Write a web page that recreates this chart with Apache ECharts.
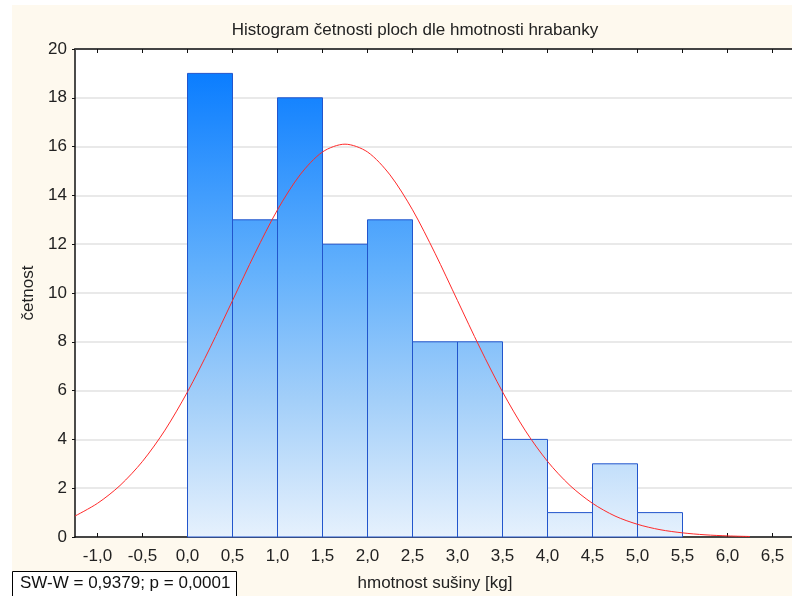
<!DOCTYPE html>
<html>
<head>
<meta charset="utf-8">
<script src="https://cdn.jsdelivr.net/npm/echarts@6/dist/echarts.min.js"></script>
<style>
  html, body { margin: 0; padding: 0; background: #fff; }
  #chart { width: 792px; height: 596px; }
</style>
</head>
<body>
<div id="chart"></div>
<script>
// histogram bins (kg) and counts
const binStarts = [0.0, 0.5, 1.0, 1.5, 2.0, 2.5, 3.0, 3.5, 4.0, 4.5, 5.0]
const binEnds   = [0.5, 1.0, 1.5, 2.0, 2.5, 3.0, 3.5, 4.0, 4.5, 5.0, 5.5]
const counts    = [19, 13, 18, 12, 13, 8, 8, 4, 1, 3, 1]

// fitted normal curve
const curveX = [-1.25, -1.0, -0.75, -0.5, -0.25, 0.0, 0.25, 0.5, 0.75, 1.0, 1.25, 1.5, 1.75,
  2.0, 2.25, 2.5, 2.75, 3.0, 3.25, 3.5, 3.75, 4.0, 4.25, 4.5, 4.75, 5.0, 5.25, 5.5, 5.75, 6.0, 6.25]
const curveY = [0.86, 1.38, 2.11, 3.10, 4.38, 5.95, 7.75, 9.69, 11.63, 13.41, 14.84, 15.78, 16.1,
  15.78, 14.84, 13.41, 11.63, 9.69, 7.75, 5.95, 4.38, 3.10, 2.11, 1.38, 0.86, 0.52, 0.30, 0.17, 0.09, 0.045, 0.02]

const xTicks = [-1.0, -0.5, 0.0, 0.5, 1.0, 1.5, 2.0, 2.5, 3.0, 3.5, 4.0, 4.5, 5.0, 5.5, 6.0, 6.5]

const FONT = 'Liberation Sans, Arial, sans-serif'
const chart = echarts.init(document.getElementById('chart'))

const fmt = v => v.toFixed(1).replace('.', ',')

const histData = binStarts.map((s, i) => [s, binEnds[i], counts[i]])
const curveData = curveX.map((x, i) => [x, curveY[i]])

const option = {
  backgroundColor: '#ffffff',
  animation: false,
  title: {
    text: 'Histogram četnosti ploch dle hmotnosti hrabanky',
    left: 410,
    textAlign: 'center',
    top: 17,
    textStyle: { fontFamily: FONT, fontSize: 17, fontWeight: 'normal', color: '#222' }
  },
  graphic: [
    {
      type: 'rect', z: -10, silent: true,
      shape: { x: 12, y: 5, width: 800, height: 600 },
      style: { fill: '#fef9ee' }
    },
    {
      type: 'rect', z: 10, silent: true,
      shape: { x: 12.5, y: 571.5, width: 224, height: 40 },
      style: { fill: '#ffffff', stroke: '#000', lineWidth: 1 }
    },
    {
      type: 'text', z: 11, silent: true,
      left: 20, top: 575,
      style: { text: 'SW-W = 0,9379; p = 0,0001', font: '17px ' + FONT, fill: '#111' }
    }
  ],
  grid: {
    left: 75, top: 49, right: -3, bottom: 59,
    outerBoundsMode: 'none',
    containLabel: false,
    show: true, backgroundColor: '#ffffff', borderWidth: 0
  },
  xAxis: [
    {
      type: 'value', position: 'bottom',
      min: -1.25, max: 6.75,
      name: 'hmotnost sušiny [kg]',
      nameLocation: 'middle', nameGap: 38,
      nameTextStyle: { fontFamily: FONT, fontSize: 17, color: '#222' },
      axisLine: { show: true, onZero: false, lineStyle: { color: '#111', width: 1.5 } },
      axisTick: { show: true, inside: true, length: 4, customValues: xTicks, lineStyle: { color: '#111' } },
      axisLabel: {
        customValues: xTicks, margin: 11,
        fontFamily: FONT, fontSize: 17, color: '#222',
        formatter: fmt
      },
      splitLine: { show: false }
    },
    {
      type: 'value', position: 'top',
      min: -1.25, max: 6.75,
      axisLine: { show: true, onZero: false, lineStyle: { color: '#444', width: 2 } },
      axisTick: { show: true, inside: true, length: 4, customValues: xTicks, lineStyle: { color: '#111' } },
      axisLabel: { show: false },
      splitLine: { show: false }
    }
  ],
  yAxis: {
    type: 'value', min: 0, max: 20, interval: 2,
    name: 'četnost',
    nameLocation: 'middle', nameGap: 36, nameRotate: 90,
    nameTextStyle: { fontFamily: FONT, fontSize: 17, color: '#222' },
    axisLine: { show: true, onZero: false, lineStyle: { color: '#111', width: 1.5 } },
    axisTick: { show: true, inside: false, length: 3, lineStyle: { color: '#111' } },
    axisLabel: { margin: 8, fontFamily: FONT, fontSize: 17, color: '#222' },
    splitLine: { show: true, lineStyle: { color: '#e2e2e2', width: 1.5 } }
  },
  series: [
    {
      type: 'custom',
      xAxisIndex: 0,
      encode: { x: [0, 1], y: 2 },
      data: histData,
      renderItem: (params, api) => {
        const p0 = api.coord([api.value(0), api.value(2)])
        const p1 = api.coord([api.value(1), 0])
        const yTop = api.coord([0, 20])[1]
        const yBot = api.coord([0, 0])[1]
        const fill = new echarts.graphic.LinearGradient(0, yTop, 0, yBot, [
          { offset: 0, color: '#0077ff' },
          { offset: 0.45, color: '#62b0fc' },
          { offset: 0.72, color: '#a3cff9' },
          { offset: 1, color: '#e6f1fd' }
        ], true)
        return {
          type: 'rect',
          shape: { x: p0[0], y: p0[1], width: p1[0] - p0[0], height: p1[1] - p0[1] },
          style: { fill: fill, stroke: '#2255cc', lineWidth: 1 }
        }
      }
    },
    {
      type: 'line',
      xAxisIndex: 0,
      data: curveData,
      smooth: 0.3,
      symbol: 'none',
      z: 5,
      lineStyle: { color: '#ff2a2a', width: 1 }
    }
  ]
}

chart.setOption(option)
</script>
</body>
</html>
